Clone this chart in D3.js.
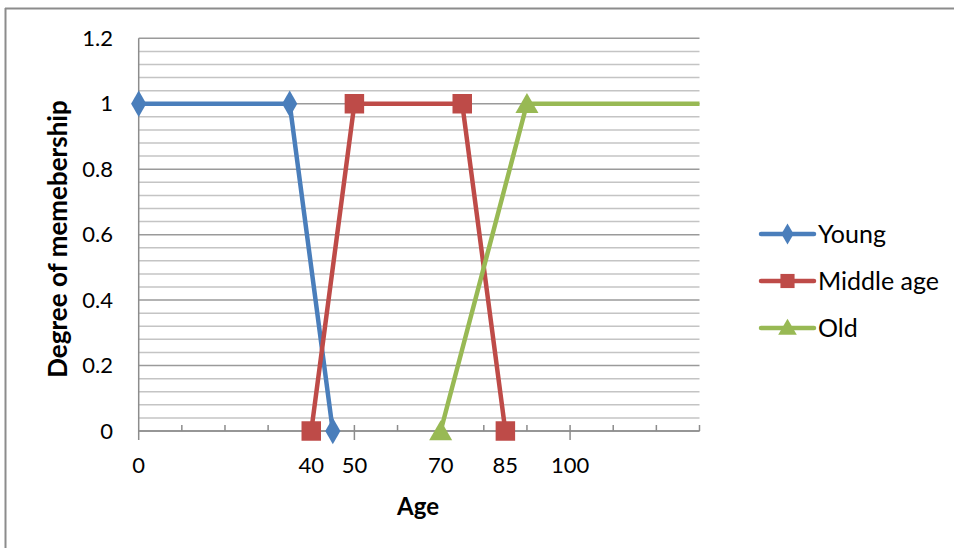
<!DOCTYPE html>
<html><head><meta charset="utf-8">
<script src="https://cdn.jsdelivr.net/npm/d3@7"></script>
<style>body{margin:0;background:#fff}svg{display:block;font-family:Lato,"Open Sans",sans-serif}</style>
</head><body><svg id="c" width="954" height="548"></svg>
<script>
const seriesNames = ["Young", "Middle age", "Old"];
const youngX = [0, 35, 45], youngY = [1, 1, 0];
const middleX = [40, 50, 75, 85], middleY = [0, 1, 1, 0];
const oldX = [70, 90, 130], oldY = [0, 1, 1];
const xTickLabels = [0, 40, 50, 70, 85, 100];
const yTickLabels = [0, 0.2, 0.4, 0.6, 0.8, 1, 1.2];
const colors = ["#4a7ebb", "#be4b48", "#98b954"];
const shapes = [d3.symbolDiamond, d3.symbolSquare, d3.symbolTriangle];

const svg = d3.select("#c");
const x = d3.scaleLinear().domain([0, 130]).range([138.7, 699.5]);
const y = d3.scaleLinear().domain([0, 1.2]).range([431, 38.3]);

// outer border (top and left only visible)
svg.append("line").attr("x1",5).attr("x2",954).attr("y1",8.5).attr("y2",8.5).attr("stroke","#8c8c8c").attr("stroke-width",2);
svg.append("line").attr("x1",5.5).attr("x2",5.5).attr("y1",8).attr("y2",548).attr("stroke","#8c8c8c").attr("stroke-width",2);

// gridlines
const minor = d3.range(0, 1.2001, 0.04);
svg.append("g").selectAll("line").data(minor).join("line")
  .attr("x1", x(0)).attr("x2", x(130))
  .attr("y1", d => y(d)).attr("y2", d => y(d))
  .attr("stroke", d => (Math.abs(d*5 - Math.round(d*5)) < 1e-6) ? "#9a9a9a" : "#c4c4c4")
  .attr("stroke-width", 1.5);

// axes lines
svg.append("line").attr("x1", x(0)).attr("x2", x(0)).attr("y1", y(1.2)).attr("y2", y(0)+9).attr("stroke","#8c8c8c").attr("stroke-width",1.5);
svg.append("line").attr("x1", x(0)).attr("x2", x(130)).attr("y1", y(0)).attr("y2", y(0)).attr("stroke","#8c8c8c").attr("stroke-width",1.5);
// x ticks
const xt = d3.range(10, 131, 10);
svg.append("g").selectAll("line").data(xt).join("line")
  .attr("x1", d => x(d)).attr("x2", d => x(d))
  .attr("y1", d => y(0) - 6).attr("y2", d => (d % 50 === 0) ? y(0) + 9 : y(0))
  .attr("stroke","#8c8c8c").attr("stroke-width",1.5);

// y tick labels
svg.append("g").selectAll("text").data(yTickLabels).join("text")
  .attr("x", 113).attr("y", d => y(d)).attr("dy","0.35em")
  .attr("text-anchor","end").attr("font-size",22).attr("fill","#000")
  .text(d => d3.format("~g")(d));
// x tick labels
svg.append("g").selectAll("text").data(xTickLabels).join("text")
  .attr("x", d => x(d)).attr("y", 465).attr("dy","0.35em")
  .attr("text-anchor","middle").attr("font-size",22).attr("fill","#000")
  .text(d => d);

// titles
svg.append("text").attr("x", 418).attr("y", 507).attr("dy","0.35em").attr("text-anchor","middle")
  .attr("font-size",24).attr("font-weight","bold").text("Age");
svg.append("text").attr("transform","translate(58,239) rotate(-90)").attr("dy","0.35em").attr("text-anchor","middle")
  .attr("font-size",26).attr("font-weight","bold").text("Degree of memebership");

// series
svg.append("defs").append("clipPath").attr("id","pc").append("rect")
  .attr("x", x(0)-15).attr("y", 0).attr("width", x(130)-x(0)+17).attr("height", 548);
const series = [
  {name: seriesNames[0], xs: youngX, ys: youngY},
  {name: seriesNames[1], xs: middleX, ys: middleY},
  {name: seriesNames[2], xs: oldX, ys: oldY}
];
const line = d3.line().x(d => x(d[0])).y(d => y(d[1]));
const g = svg.append("g").attr("clip-path","url(#pc)");
series.forEach((s, i) => {
  const pts = s.xs.map((v, j) => [v, s.ys[j]]);
  g.append("path").attr("d", line(pts)).attr("fill","none")
    .attr("stroke", colors[i]).attr("stroke-width", 4.5).attr("stroke-linejoin","round");
  const sz = i === 0 ? 200 : (i === 1 ? 380 : 230);
  const mpts = i === 2 ? pts.slice(0, 2) : pts;
  g.selectAll(null).data(mpts).join("path")
    .attr("transform", d => `translate(${x(d[0])},${y(d[1]) + (i===2?2.5:0)})`)
    .attr("d", d3.symbol().type(shapes[i]).size(sz)).attr("fill", colors[i]);
});

// legend
const lg = svg.append("g");
series.forEach((s, i) => {
  const ly = 234 + i * 47;
  lg.append("line").attr("x1", 761).attr("x2", 814).attr("y1", ly).attr("y2", ly)
    .attr("stroke", colors[i]).attr("stroke-width", 4.5).attr("stroke-linecap","round");
  const sz = i === 0 ? 130 : (i === 1 ? 200 : 150);
  lg.append("path").attr("transform", `translate(787.5,${ly + (i===2?1.5:0)})`)
    .attr("d", d3.symbol().type(shapes[i]).size(sz)).attr("fill", colors[i]);
  lg.append("text").attr("x", 818).attr("y", ly).attr("dy","0.35em").attr("font-size",25).text(s.name);
});
</script></body></html>
